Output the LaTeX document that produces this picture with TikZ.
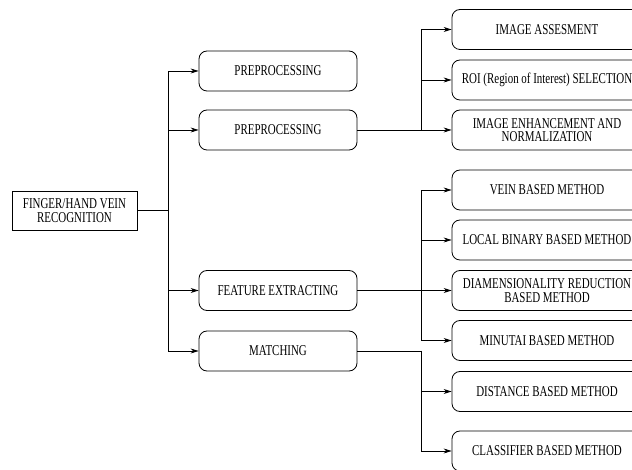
\documentclass[tikz,border=0pt]{standalone}
\usepackage{fontspec}
\setmainfont[FakeStretch=0.73]{Liberation Serif}
\usetikzlibrary{arrows.meta}

\begin{document}
\begin{tikzpicture}[x=1pt,y=-1pt,line width=0.8pt,
  font=\fontsize{15}{13.5}\selectfont,
  >={Stealth[length=8pt,width=5pt]},
  rootbox/.style={draw,minimum width=125pt,minimum height=39pt,align=center,inner sep=1pt},
  stagebox/.style={draw,rounded corners=8pt,minimum width=158pt,minimum height=40pt,align=center},
  methodbox/.style={draw,rounded corners=8pt,minimum width=190pt,minimum height=40pt,align=center,inner sep=1pt}]
\clip (0,0) rectangle (632,470);
% main box and the four stages
\node[rootbox] (root) at (74.5,210.5) {FINGER/HAND VEIN\\RECOGNITION};
\node[stagebox] (pre1) at (278,71) {PREPROCESSING};
\node[stagebox] (pre2) at (278,130) {PREPROCESSING};
\node[stagebox] (feat) at (278,290.5) {FEATURE EXTRACTING};
\node[stagebox] (match) at (278,351) {MATCHING};
% methods
\node[methodbox] (assess) at (547,29.5) {IMAGE ASSESMENT};
\node[methodbox] (roi) at (547,80) {ROI (Region of Interest) SELECTION};
\node[methodbox] (enh) at (547,130) {IMAGE ENHANCEMENT AND\\NORMALIZATION};
\node[methodbox] (vein) at (547,190) {VEIN BASED METHOD};
\node[methodbox] (lbp) at (547,240) {LOCAL BINARY BASED METHOD};
\node[methodbox] (dimred) at (547,290.5) {DIAMENSIONALITY REDUCTION\\BASED METHOD};
\node[methodbox] (minut) at (547,340.5) {MINUTAI BASED METHOD};
\node[methodbox] (dist) at (547,391.5) {DISTANCE BASED METHOD};
\node[methodbox] (classif) at (547,451) {CLASSIFIER BASED METHOD};
\coordinate (trunk) at (168,210.5);
\coordinate (fork) at (421,0);
% connectors
\draw (root.east) -- (trunk);
\foreach \s in {pre1,pre2,feat,match}
  \draw[->] (trunk) |- (\s.west);
\draw (pre2.east) -- (pre2.east -| fork);
\foreach \m in {assess,roi,enh}
  \draw[->] (pre2.east -| fork) |- (\m.west);
\draw (feat.east) -- (feat.east -| fork);
\foreach \m in {vein,lbp,dimred,minut}
  \draw[->] (feat.east -| fork) |- (\m.west);
\draw (match.east) -- (match.east -| fork);
\foreach \m in {dist,classif}
  \draw[->] (match.east -| fork) |- (\m.west);
\end{tikzpicture}
\end{document}
